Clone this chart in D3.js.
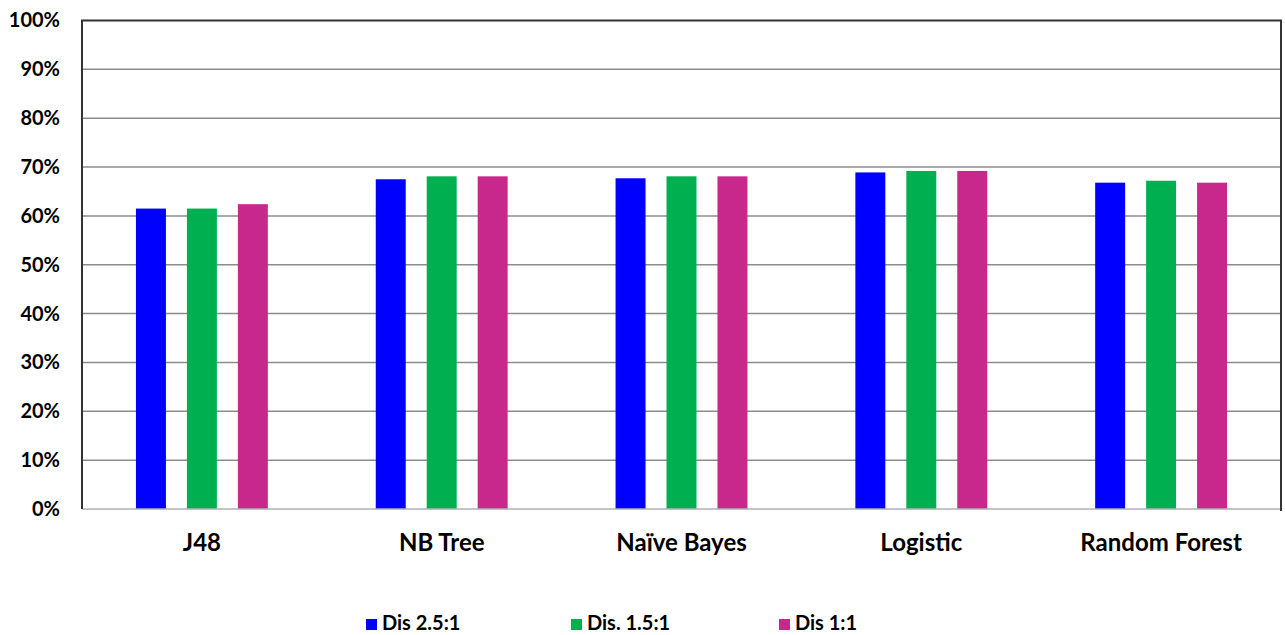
<!DOCTYPE html>
<html><head><meta charset="utf-8">
<script src="https://cdn.jsdelivr.net/npm/d3@7"></script>
<style>
html,body{margin:0;padding:0;background:#fff;}
svg{display:block;}
text{font-family:Lato, "Open Sans", sans-serif;font-weight:bold;fill:#000;}
</style></head>
<body>
<svg id="chart" width="1285" height="635"></svg>
<script>
const categories = ["J48", "NB Tree", "Naïve Bayes", "Logistic", "Random Forest"];
const seriesNames = ["Dis 2.5:1", "Dis. 1.5:1", "Dis 1:1"];
const dis25 = [0.615, 0.675, 0.677, 0.689, 0.668];
const dis15 = [0.615, 0.681, 0.681, 0.692, 0.672];
const dis11 = [0.624, 0.681, 0.681, 0.692, 0.668];
const seriesValues = [dis25, dis15, dis11];
const colors = ["#0000FF", "#00B050", "#C8288B"];
const yTicks = [0, 0.1, 0.2, 0.3, 0.4, 0.5, 0.6, 0.7, 0.8, 0.9, 1.0];

const svg = d3.select("#chart");
const L = 82, T = 20.5, R = 1281, B = 509;

const x0 = d3.scaleBand().domain(categories).range([L, R]).paddingInner(0.45).paddingOuter(0.225);
const x1 = d3.scaleBand().domain(seriesNames).range([0, x0.bandwidth()]).paddingInner(21/51).paddingOuter(0);
const y = d3.scaleLinear().domain([0, 1]).range([B, T]);

// gridlines
svg.append("g").selectAll("line").data(yTicks.filter(d => d > 0 && d < 1)).join("line")
  .attr("x1", L).attr("x2", R).attr("y1", d => y(d)).attr("y2", d => y(d))
  .attr("stroke", "#8c8c8c").attr("stroke-width", 1.5);

// bars
const groups = svg.append("g").selectAll("g").data(categories).join("g")
  .attr("transform", d => `translate(${x0(d)},0)`);
groups.selectAll("rect").data((c, i) => seriesNames.map((s, j) => ({s, j, v: seriesValues[j][i]}))).join("rect")
  .attr("x", d => x1(d.s)).attr("width", x1.bandwidth())
  .attr("y", d => y(d.v)).attr("height", d => B - y(d.v))
  .attr("fill", d => colors[d.j]);

// baseline
svg.append("line").attr("x1", L).attr("x2", R).attr("y1", B).attr("y2", B)
  .attr("stroke", "#b0b0b0").attr("stroke-width", 1.5);
// plot border (left, top, right)
svg.append("path").attr("d", `M${L},${B}V${T}H${R}V${B+2}`)
  .attr("fill", "none").attr("stroke", "#333").attr("stroke-width", 2);

// y axis labels
const yAxis = d3.axisLeft(y).tickValues(yTicks).tickFormat(d3.format(".0%")).tickSize(0).tickPadding(22);
const gy = svg.append("g").attr("transform", `translate(${L},0)`).call(yAxis);
gy.select(".domain").remove();
gy.selectAll("text").attr("font-size", 20).attr("font-family", "Lato, sans-serif").attr("font-weight", "bold").attr("fill", "#000");

// x axis labels
const xAxis = d3.axisBottom(x0).tickSize(0).tickPadding(25);
const gx = svg.append("g").attr("transform", `translate(0,${B})`).call(xAxis);
gx.select(".domain").remove();
gx.selectAll("text").attr("font-size", 24).attr("font-family", "Lato, sans-serif").attr("font-weight", "bold").attr("fill", "#000");

// legend
const legendX = [366, 571, 779];
const lg = svg.append("g").selectAll("g").data(seriesNames).join("g")
  .attr("transform", (d, i) => `translate(${legendX[i]},0)`);
lg.append("rect").attr("x", 0).attr("y", 619).attr("width", 11).attr("height", 11).attr("fill", (d, i) => colors[i]);
lg.append("text").attr("x", 16).attr("y", 630).attr("font-size", 20).text(d => d);
</script>
</body></html>
